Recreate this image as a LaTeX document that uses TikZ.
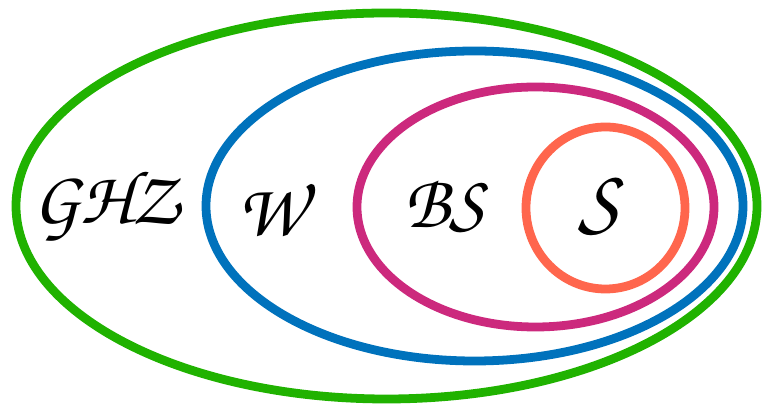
\documentclass[tikz,border=0pt]{standalone}
\usepackage{amsmath}
\usepackage{tikz}
\usetikzlibrary{positioning}
\DeclareMathAlphabet{\mathchanc}{OT1}{pzc}{m}{it}
\definecolor{SetGreen}{RGB}{32,178,0}
\definecolor{SetBlue}{RGB}{0,114,188}
\definecolor{SetMagenta}{RGB}{204,41,125}
\definecolor{SetCoral}{RGB}{255,102,77}
\tikzset{
  setline/.style = {line width=5pt},
  setlabel/.style = {font=\fontsize{43}{50}\selectfont, inner sep=0pt}
}
\begin{document}
\begin{tikzpicture}[x=0.02cm, y=0.02cm]
\useasboundingbox (0,0) rectangle (764,405);
% nested sets
\draw[setline, SetGreen]   (386.5,199) ellipse [x radius=370.5, y radius=193];
\draw[setline, SetBlue]    (474.5,199) ellipse [x radius=268.5, y radius=155];
\draw[setline, SetMagenta] (535.5,198) ellipse [x radius=178.5, y radius=120];
\draw[setline, SetCoral]   (605.5,197) ellipse [x radius=79.5, y radius=81];
% labels
\node[setlabel] (ghz) at (108,199) {$\mathchanc{GHZ}$};
\node[setlabel] (w)   at (277,196) {$\mathchanc{W}$};
\node[setlabel] (bs)  at (448,199) {$\mathchanc{BS}$};
\node[setlabel, font=\fontsize{50}{58}\selectfont] (s) at (603,199) {$\mathchanc{S}$};
\end{tikzpicture}
\end{document}
